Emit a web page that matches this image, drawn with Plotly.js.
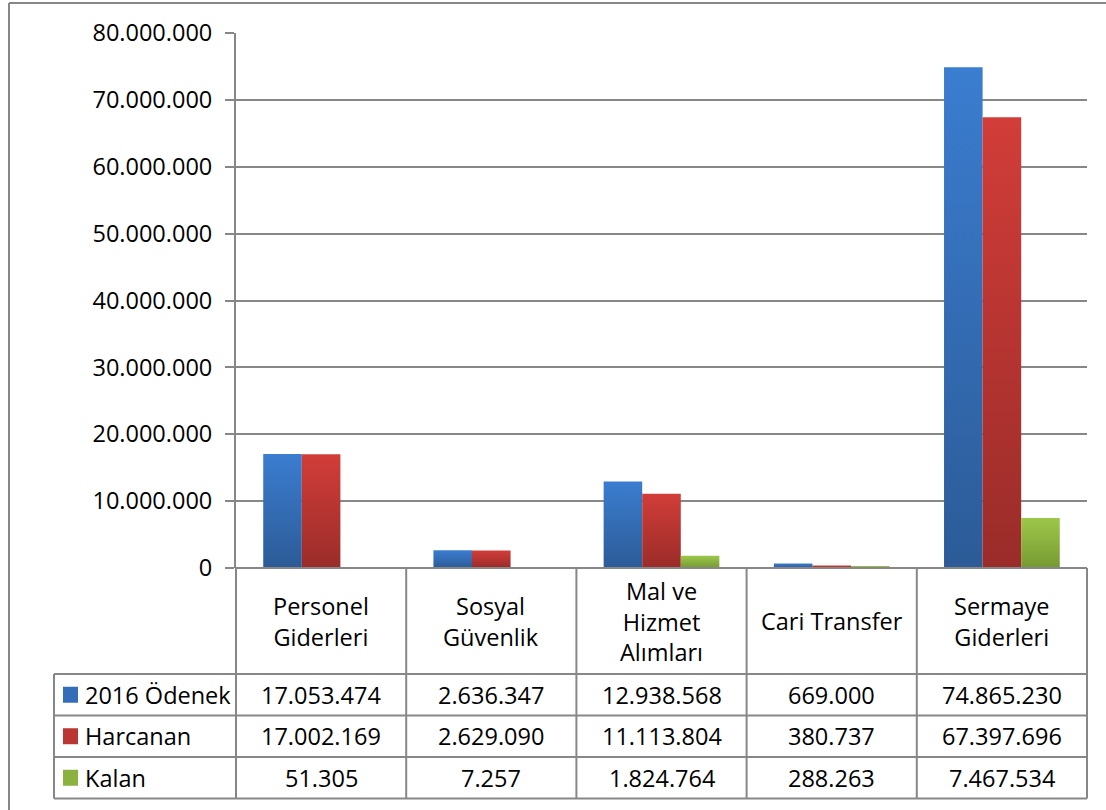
<!DOCTYPE html>
<html>
<head>
<meta charset="utf-8">
<script src="https://cdn.plot.ly/plotly-3.0.1.min.js"></script>
<style>
  html, body { margin: 0; padding: 0; background: #fff; }
  #chart { width: 1106px; height: 810px; }
</style>
</head>
<body>
<div id="chart"></div>
<script>
// ---- data ----
const categories = ['Personel Giderleri', 'Sosyal Güvenlik', 'Mal ve Hizmet Alımları', 'Cari Transfer', 'Sermaye Giderleri'];
const categoryLabels = ['Personel<br>Giderleri', 'Sosyal<br>Güvenlik', 'Mal ve<br>Hizmet<br>Alımları', 'Cari Transfer', 'Sermaye<br>Giderleri'];
const seriesNames = ['2016 Ödenek', 'Harcanan', 'Kalan'];
const odenek = [17053474, 2636347, 12938568, 669000, 74865230];
const harcanan = [17002169, 2629090, 11113804, 380737, 67397696];
const kalan = [51305, 7257, 1824764, 288263, 7467534];
const yTickValues = [0, 10000000, 20000000, 30000000, 40000000, 50000000, 60000000, 70000000, 80000000];

// ---- styles ----
const seriesValues = [odenek, harcanan, kalan];
const topColors = ['#3B7DD0', '#D23D39', '#9DC74B'];
const bottomColors = ['#2C5B97', '#9A2C29', '#769A32'];
const midColors = ['#346EB8', '#BA3632', '#8BB13F'];
const gridColor = '#878787';
const FONT = 'Open Sans, Liberation Sans, sans-serif';
const FS = 23.5;
const LW = 2;

function fmt(n) {
  const s = Math.round(n).toString();
  return s.replace(/\B(?=(\d{3})+(?!\d))/g, '.');
}

// pixel geometry of the plot area
const W = 1106, H = 810;
const L = 236, R = 1087, T = 33, B = 568;
const px = x => (x - L) / (R - L);
const py = y => (B - y) / (B - T);

const headerBottom = 674;
const rowLines = [674, 715.5, 757, 798.5];
const tableLeft = 54;

const data = seriesValues.map((vals, i) => ({
  type: 'bar',
  name: seriesNames[i],
  x: categories,
  y: vals,
  marker: { color: midColors[i], line: { width: 0 } },
  hoverinfo: 'skip'
}));

const shapes = [];
const annotations = [];
const line = (x0, y0, x1, y1) => shapes.push({
  type: 'line', xref: 'paper', yref: 'paper',
  x0: px(x0), y0: py(y0), x1: px(x1), y1: py(y1),
  line: { color: gridColor, width: LW }
});

// outer chart border (left and top)
line(9, 3, 9, H + 5);
line(9, 3, W + 5, 3);

// table vertical lines at category boundaries
for (let i = 0; i <= categories.length; i++) {
  const x = L + i * (R - L) / categories.length;
  line(x, B, x, rowLines[rowLines.length - 1]);
}
// left column vertical
line(tableLeft, headerBottom, tableLeft, rowLines[rowLines.length - 1]);
// horizontal table lines
rowLines.forEach(y => line(tableLeft, y, R, y));
line(L, B, R, B);

// header labels
categoryLabels.forEach((lab, i) => {
  annotations.push({
    xref: 'paper', yref: 'paper',
    x: px(L + (i + 0.5) * (R - L) / categories.length),
    y: py((B + headerBottom) / 2),
    text: lab, showarrow: false, xanchor: 'center', yanchor: 'middle',
    font: { family: FONT, size: FS, color: '#000' }
  });
});

// rows
seriesValues.forEach((vals, r) => {
  const yc = (rowLines[r] + rowLines[r + 1]) / 2;
  // legend key
  shapes.push({
    type: 'rect', xref: 'paper', yref: 'paper',
    x0: px(63), x1: px(78), y0: py(yc - 8), y1: py(yc + 8),
    fillcolor: midColors[r], line: { width: 0 }
  });
  annotations.push({
    xref: 'paper', yref: 'paper', x: px(83), y: py(yc),
    text: seriesNames[r], showarrow: false, xanchor: 'left', yanchor: 'middle',
    font: { family: FONT, size: FS, color: '#000' }
  });
  vals.forEach((v, i) => {
    annotations.push({
      xref: 'paper', yref: 'paper',
      x: px(L + (i + 0.5) * (R - L) / categories.length), y: py(yc),
      text: fmt(v), showarrow: false, xanchor: 'center', yanchor: 'middle',
      font: { family: FONT, size: FS, color: '#000' }
    });
  });
});

const layout = {
  width: W, height: H,
  margin: { l: L, r: W - R, t: T, b: H - B, pad: 0 },
  paper_bgcolor: '#fff', plot_bgcolor: '#fff',
  showlegend: false,
  barmode: 'group', bargap: 0.32, bargroupgap: 0,
  font: { family: FONT, size: FS, color: '#000' },
  xaxis: {
    type: 'category', range: [-0.5, categories.length - 0.5],
    showticklabels: false, showgrid: false, zeroline: false, showline: false, ticks: ''
  },
  yaxis: {
    range: [0, 80000000], tickvals: yTickValues, ticktext: yTickValues.map(fmt),
    showgrid: true, gridcolor: gridColor, gridwidth: LW,
    zeroline: false, showline: true, linecolor: gridColor, linewidth: LW,
    ticks: 'outside', ticklen: 9, tickcolor: gridColor, tickwidth: LW,
    tickfont: { family: FONT, size: FS, color: '#000' },
    ticklabelstandoff: 8
  },
  shapes: shapes,
  annotations: annotations
};

const gd = document.getElementById('chart');
Plotly.newPlot(gd, data, layout, { staticPlot: true, displayModeBar: false }).then(() => {
  const NS = 'http://www.w3.org/2000/svg';
  const svg = gd.querySelector('.main-svg');
  let defs = svg.querySelector('defs');
  if (!defs) { defs = document.createElementNS(NS, 'defs'); svg.insertBefore(defs, svg.firstChild); }
  topColors.forEach((c, i) => {
    const lg = document.createElementNS(NS, 'linearGradient');
    lg.setAttribute('id', 'barGrad' + i);
    lg.setAttribute('x1', '0'); lg.setAttribute('y1', '0');
    lg.setAttribute('x2', '0'); lg.setAttribute('y2', '1');
    [[0, c], [1, bottomColors[i]]].forEach(([o, col]) => {
      const st = document.createElementNS(NS, 'stop');
      st.setAttribute('offset', o);
      st.setAttribute('stop-color', col);
      lg.appendChild(st);
    });
    defs.appendChild(lg);
  });
  gd.querySelectorAll('.barlayer .trace').forEach((tr, i) => {
    tr.querySelectorAll('path').forEach(p => { p.style.fill = 'url(#barGrad' + i + ')'; });
  });
});
</script>
</body>
</html>
